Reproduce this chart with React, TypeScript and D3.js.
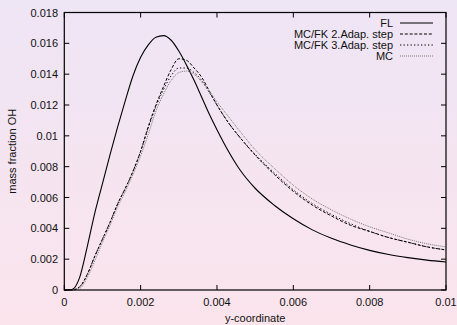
import React from "react";
import * as d3 from "d3";

const xs = [0, 0.0002, 0.0004, 0.0006, 0.0008, 0.001, 0.0012, 0.0014, 0.0016, 0.0018, 0.002, 0.0022, 0.0024, 0.0026, 0.0028, 0.003, 0.0032, 0.0034, 0.0036, 0.0038, 0.004, 0.0043, 0.0046, 0.005, 0.0055, 0.006, 0.0065, 0.007, 0.0075, 0.008, 0.0085, 0.009, 0.0095, 0.01];

const fl = [0, 0.00003, 0.0008, 0.0028, 0.005, 0.0069, 0.0088, 0.0106, 0.0123, 0.0139, 0.0151, 0.0159, 0.0164, 0.0165, 0.0162, 0.0155, 0.0146, 0.0136, 0.0125, 0.0114, 0.0104, 0.009, 0.0078, 0.0066, 0.0055, 0.00462, 0.0039, 0.00335, 0.00292, 0.00257, 0.0023, 0.0021, 0.00194, 0.00182];

const mcfk2 = [0, 0, 0.0002, 0.001, 0.0022, 0.0033, 0.0044, 0.0056, 0.0066, 0.0077, 0.009, 0.0106, 0.012, 0.0132, 0.0143, 0.015, 0.0149, 0.0144, 0.0138, 0.0129, 0.012, 0.01085, 0.0099, 0.00875, 0.0075, 0.0064, 0.0055, 0.0048, 0.0042, 0.0038, 0.0034, 0.0031, 0.0028, 0.0026];

const mcfk3 = [0, 0, 0.0002, 0.001, 0.0022, 0.0033, 0.0044, 0.0056, 0.0066, 0.0077, 0.009, 0.0105, 0.0119, 0.013, 0.0139, 0.0144, 0.0144, 0.0141, 0.0136, 0.0128, 0.012, 0.01085, 0.0099, 0.0088, 0.0076, 0.0065, 0.0056, 0.0049, 0.0043, 0.0038, 0.0034, 0.0031, 0.0028, 0.0026];

const mc = [0, 0, 0.0001, 0.0008, 0.0019, 0.0031, 0.0042, 0.0054, 0.0064, 0.0075, 0.0087, 0.0101, 0.0116, 0.0127, 0.0136, 0.0141, 0.0142, 0.014, 0.0135, 0.0129, 0.0122, 0.01125, 0.0103, 0.0091, 0.0079, 0.0068, 0.0059, 0.0052, 0.0046, 0.0041, 0.0037, 0.0033, 0.003, 0.0028];

const xTicks = [0, 0.002, 0.004, 0.006, 0.008, 0.01];
const yTicks = [0, 0.002, 0.004, 0.006, 0.008, 0.01, 0.012, 0.014, 0.016, 0.018];

const seriesNames = ["FL", "MC/FK 2.Adap. step", "MC/FK 3.Adap. step", "MC"];
const seriesData = [fl, mcfk2, mcfk3, mc];
const seriesStyle = [
  { stroke: "#000", dash: "", width: 1.1 },
  { stroke: "#000", dash: "3,1.8", width: 1 },
  { stroke: "#000", dash: "1.3,2.2", width: 1 },
  { stroke: "#777", dash: "1,1", width: 1 },
];

const W = 457, H = 325;
const L = 64.3, R = 446, T = 12.5, B = 290;

export default function App() {
  const x = d3.scaleLinear().domain([0, 0.01]).range([L, R]);
  const y = d3.scaleLinear().domain([0, 0.018]).range([B, T]);
  const fmt = (v: number) => String(+v.toFixed(4));
  const line = d3
    .line<number>()
    .x((_, i) => x(xs[i]))
    .y((d) => y(d))
    .curve(d3.curveMonotoneX);
  const font = "'Liberation Sans', Arial, Helvetica, sans-serif";
  return (
    <svg
      width={W}
      height={H}
      style={{ position: "absolute", left: 0, top: 0, fontFamily: font }}
    >
      <defs>
        <linearGradient id="bg" x1="0" y1="0" x2="0" y2="1">
          <stop offset="0" stopColor="#eee5f5" />
          <stop offset="1" stopColor="#fbe4ec" />
        </linearGradient>
      </defs>
      <rect x={0} y={0} width={W} height={H} fill="url(#bg)" />
      {seriesData.map((d, i) => (
        <path
          key={i}
          d={line(d) || ""}
          fill="none"
          stroke={seriesStyle[i].stroke}
          strokeWidth={seriesStyle[i].width}
          strokeDasharray={seriesStyle[i].dash}
        />
      ))}
      <rect x={L} y={T} width={R - L} height={B - T} fill="none" stroke="#000" strokeWidth={1.2} />
      {xTicks.map((t) => (
        <g key={"x" + t}>
          <line x1={x(t)} x2={x(t)} y1={B} y2={B - 5} stroke="#000" />
          <line x1={x(t)} x2={x(t)} y1={T} y2={T + 5} stroke="#000" />
          <text x={x(t)} y={306} fontSize={11} textAnchor="middle" fill="#111">
            {fmt(t)}
          </text>
        </g>
      ))}
      {yTicks.map((t) => (
        <g key={"y" + t}>
          <line x1={L} x2={L + 5} y1={y(t)} y2={y(t)} stroke="#000" />
          <line x1={R} x2={R - 5} y1={y(t)} y2={y(t)} stroke="#000" />
          <text x={58} y={y(t) + 4} fontSize={11} textAnchor="end" fill="#111">
            {fmt(t)}
          </text>
        </g>
      ))}
      <text x={(L + R) / 2} y={322} fontSize={11} textAnchor="middle" fill="#111">
        y-coordinate
      </text>
      <text
        transform={`translate(16,${(T + B) / 2}) rotate(-90)`}
        fontSize={11}
        textAnchor="middle"
        fill="#111"
      >
        mass fraction OH
      </text>
      {seriesNames.map((n, i) => (
        <g key={n}>
          <text x={393} y={27 + i * 11} fontSize={11} textAnchor="end" fill="#111">
            {n}
          </text>
          <line
            x1={400}
            x2={433}
            y1={23 + i * 11}
            y2={23 + i * 11}
            stroke={seriesStyle[i].stroke}
            strokeWidth={seriesStyle[i].width}
            strokeDasharray={seriesStyle[i].dash}
          />
        </g>
      ))}
    </svg>
  );
}
